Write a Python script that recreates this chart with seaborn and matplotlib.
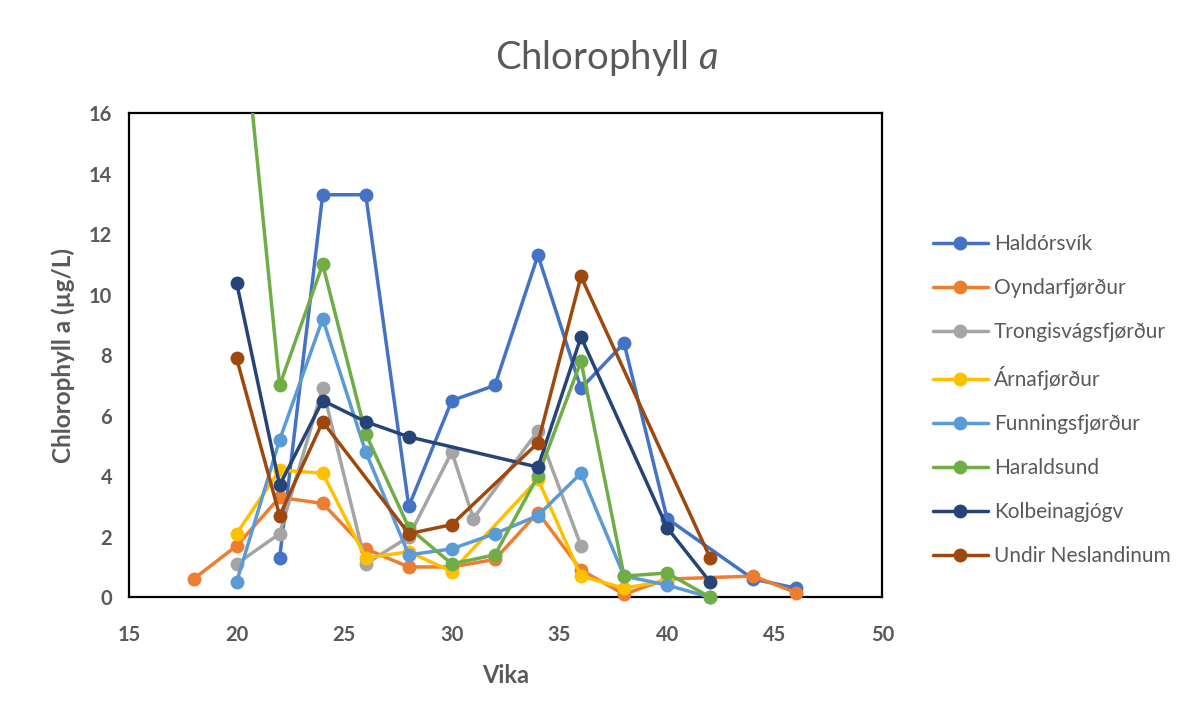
import numpy as np
import pandas as pd
import matplotlib
matplotlib.use("Agg")
import matplotlib.pyplot as plt
from matplotlib.lines import Line2D
import seaborn as sns

# ---------------- data ----------------
sites = ["Haldórsvík", "Oyndarfjørður", "Trongisvágsfjørður", "Árnafjørður",
         "Funningsfjørður", "Haraldsund", "Kolbeinagjógv", "Undir Neslandinum"]
colors = ["#4472C4", "#ED7D31", "#A5A5A5", "#FFC000",
          "#5B9BD5", "#70AD47", "#264478", "#9E480E"]

haldorsvik_x = [22, 24, 26, 28, 30, 32, 34, 36, 38, 40, 44, 46]
haldorsvik_y = [1.3, 13.3, 13.3, 3.0, 6.5, 7.0, 11.3, 6.9, 8.4, 2.6, 0.6, 0.3]

oyndar_x = [18, 20, 22, 24, 26, 28, 30, 32, 34, 36, 38, 40, 44, 46]
oyndar_y = [0.6, 1.7, 3.3, 3.1, 1.6, 1.0, 1.0, 1.25, 2.8, 0.9, 0.1, 0.6, 0.7, 0.15]

trongis_x = [20, 22, 24, 26, 28, 30, 31, 34, 36]
trongis_y = [1.1, 2.1, 6.9, 1.1, 2.0, 4.8, 2.6, 5.5, 1.7]

arna_x = [20, 22, 24, 26, 28, 30, 34, 36, 38, 40]
arna_y = [2.1, 4.2, 4.1, 1.3, 1.5, 0.85, 3.9, 0.7, 0.3, 0.55]

funnings_x = [20, 22, 24, 26, 28, 30, 32, 34, 36, 38, 40, 42]
funnings_y = [0.5, 5.2, 9.2, 4.8, 1.4, 1.6, 2.1, 2.7, 4.1, 0.7, 0.4, 0.0]

haraldsund_x = [20, 22, 24, 26, 28, 30, 32, 34, 36, 38, 40, 42]
haraldsund_y = [21.3, 7.0, 11.0, 5.4, 2.3, 1.1, 1.4, 4.0, 7.8, 0.7, 0.8, 0.0]

kolbeina_x = [20, 22, 24, 26, 28, 34, 36, 40, 42]
kolbeina_y = [10.4, 3.7, 6.5, 5.8, 5.3, 4.3, 8.6, 2.3, 0.5]

undir_x = [20, 22, 24, 28, 30, 34, 36, 42]
undir_y = [7.9, 2.7, 5.8, 2.1, 2.4, 5.1, 10.6, 1.3]

series_x = [haldorsvik_x, oyndar_x, trongis_x, arna_x,
            funnings_x, haraldsund_x, kolbeina_x, undir_x]
series_y = [haldorsvik_y, oyndar_y, trongis_y, arna_y,
            funnings_y, haraldsund_y, kolbeina_y, undir_y]

x_ticks = [15, 20, 25, 30, 35, 40, 45, 50]
y_ticks = [0, 2, 4, 6, 8, 10, 12, 14, 16]

# ---------------- style ----------------
sns.set_theme(style="white")
plt.rcParams["font.family"] = ["Lato", "DejaVu Sans"]
plt.rcParams["mathtext.fontset"] = "custom"
plt.rcParams["mathtext.it"] = "Lato:italic"
plt.rcParams["mathtext.rm"] = "Lato"
grey = "#595959"

fig = plt.figure(figsize=(11.94, 7.11), dpi=100)
fig.patch.set_facecolor("white")
ax = fig.add_axes([0.108, 0.160, 0.631, 0.681])

YMAX = 16
for i, (name, xs, ys, c) in enumerate(zip(sites, series_x, series_y, colors)):
    df = pd.DataFrame({"Vika": xs, "val": ys})
    sns.lineplot(data=df, x="Vika", y="val", color=c, linewidth=2.5,
                 estimator=None, sort=False, ax=ax, zorder=2 + 2 * i, legend=False)
    vis = df[df["val"] <= YMAX]
    sns.scatterplot(data=vis, x="Vika", y="val", color=c, s=100, linewidth=0,
                    ax=ax, zorder=3 + 2 * i, clip_on=False, legend=False)

ax.set_xlim(15, 50)
ax.set_ylim(0, 16)
ax.set_xticks(x_ticks)
ax.set_yticks(y_ticks)
ax.tick_params(axis="y", length=0, labelsize=14.5, labelcolor=grey, pad=12)
ax.tick_params(axis="x", length=0, labelsize=14.5, labelcolor=grey, pad=20)
for lab in ax.get_xticklabels() + ax.get_yticklabels():
    lab.set_fontweight("bold")

for sp in ax.spines.values():
    sp.set_visible(True)
    sp.set_color("black")
    sp.set_linewidth(1.6)

ax.set_xlabel("Vika", fontsize=17, fontweight="bold", color=grey, labelpad=14)
ax.set_ylabel("Chlorophyll a (µg/L)", fontsize=17.5, fontweight="bold", color=grey, labelpad=10)

fig.text(0.508, 0.918, r"Chlorophyll $\mathit{a}$", ha="center", va="center",
         fontsize=27.5, color=grey, fontweight="normal")

handles = [Line2D([0], [0], color=c, linewidth=2.5, marker="o", markersize=10,
                  markeredgewidth=0) for c in colors]
leg = fig.legend(handles, sites, loc="upper left", bbox_to_anchor=(0.766, 0.697),
                 frameon=False, fontsize=15, handlelength=2.6, handletextpad=0.3,
                 labelspacing=1.15)
for t in leg.get_texts():
    t.set_color(grey)

fig.savefig("out.png", dpi=100, facecolor="white")
